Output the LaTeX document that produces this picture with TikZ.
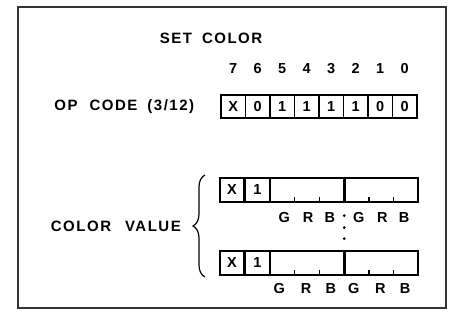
\documentclass[tikz,border=0pt]{standalone}
\usepackage{fontspec}
\setmainfont{Liberation Sans}
\newfontfamily\plate[LetterSpace=10]{Liberation Sans}
\usetikzlibrary{decorations.pathreplacing,positioning,calc}

\newcommand{\wsp}[1][12pt]{\hspace{#1}}

\tikzset{
  lbl/.style={font=\plate\bfseries\fontsize{15}{17}\selectfont, inner sep=0pt},
  small/.style={font=\bfseries\fontsize{14.5}{16}\selectfont, inner sep=0pt},
  bitcell/.style={draw, line width=1.3pt, minimum width=24.5pt, minimum height=23pt,
    inner sep=0pt, font=\bfseries\fontsize{14.5}{16}\selectfont},
  field/.style={draw, line width=1.3pt, minimum width=73pt, minimum height=24pt, inner sep=0pt},
  frame/.style={draw=black!80, line width=1.3pt},
}

\begin{document}
\begin{tikzpicture}[x=1pt, y=-1pt]
\useasboundingbox (0,0) rectangle (454,320);

    % Outer frame
    \draw[frame] (18,7) rectangle (446,308);

    % Title
    \node[lbl] (title) at (211,38) {SET\wsp[10pt]COLOR};

    % ---- Op code byte, bits 7..0 ----
    \foreach \v [count=\i] in {X,0,1,1,1,1,0,0} {
        \pgfmathtruncatemacro\b{8-\i}
        \node[bitcell] (op\b) at ({208.75+24.5*\i},106.5) {\v};
        \node[small] (bit\b) at ($(op\b.north)+(0,-26)$) {\b};
    }
    \node[lbl, left=26pt of op7] (oplabel) {OP\wsp CODE\wsp[10pt](3/12)};

    % ---- Colour value words ----
    \foreach \w/\y in {1/190, 2/263} {
        \node[bitcell, minimum height=24pt, minimum width=24pt] (x\w) at (232,\y) {X};
        \node[bitcell, minimum height=24pt, minimum width=24pt, right=0pt of x\w] (one\w) {1};
        \node[field, right=0pt of one\w] (fa\w) {};
        \node[field, right=0pt of fa\w] (fb\w) {};
        % tick marks inside the fields
        \foreach \f in {fa\w, fb\w} {
            \draw[line width=1.3pt] ($(\f.south west)!1/3!(\f.south east)$) -- ++(0,-6);
            \draw[line width=1.3pt] ($(\f.south west)!2/3!(\f.south east)$) -- ++(0,-6);
        }
    }

    % G R B labels under each field
    \foreach \f in {fa1, fb1} {
        \node[small] at ($(\f.south west)!1/6!(\f.south east)+(2,15)$) {G};
        \node[small] at ($(\f.south west)!3/6!(\f.south east)+(1,15)$) {R};
        \node[small] at ($(\f.south west)!5/6!(\f.south east)+(-2,15)$) {B};
    }
    \foreach \f in {fa2, fb2} {
        \node[small] at ($(\f.south west)!1/6!(\f.south east)+(-3,13)$) {G};
        \node[small] at ($(\f.south west)!3/6!(\f.south east)+(-1,13)$) {R};
        \node[small] at ($(\f.south west)!5/6!(\f.south east)+(-1,13)$) {B};
    }

    % dots between the words
    \foreach \d in {215, 227, 238}
        \fill ($(fa1.south east)+(0,\d-202)$) circle[radius=1.5pt];

    % Brace and its label
    \coordinate (bbot) at (205,277);
    \coordinate (btop) at (205,175);
    \draw[line width=1.2pt, decorate, decoration={brace, amplitude=12pt}] (bbot) -- (btop);
    \coordinate (btip) at (193,226);
    \node[lbl, left=12pt of btip] (cvlabel) {COLOR\wsp[14pt]VALUE};

\end{tikzpicture}
\end{document}
